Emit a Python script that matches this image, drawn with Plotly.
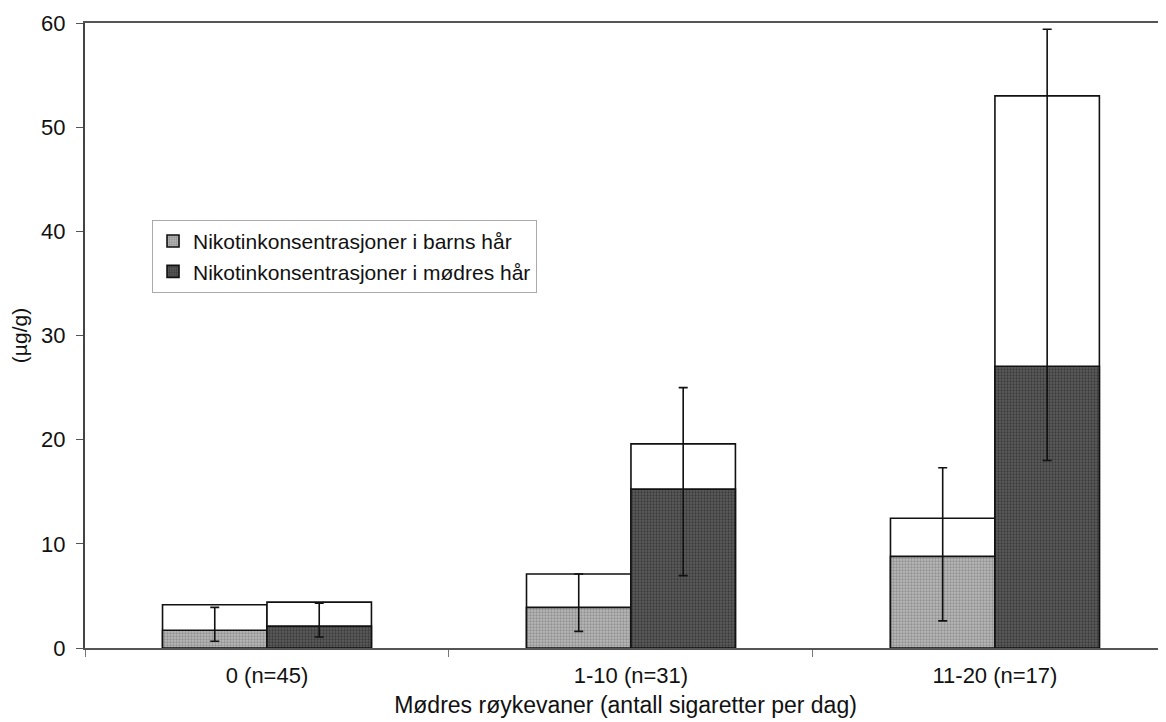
import plotly.graph_objects as go

categories = ["0 (n=45)", "1-10 (n=31)", "11-20 (n=17)"]
series_names = ["Nikotinkonsentrasjoner i barns hår", "Nikotinkonsentrasjoner i mødres hår"]

# filled part (lower) and total white-topped bar height
child_median = [1.7, 3.9, 8.8]
child_mean = [4.15, 7.1, 12.45]
child_low = [0.65, 1.6, 2.6]
child_high = [3.9, 7.1, 17.3]

mother_median = [2.1, 15.25, 27.05]
mother_mean = [4.4, 19.6, 53.0]
mother_low = [1.05, 6.95, 18.0]
mother_high = [4.3, 25.0, 59.4]

y_ticks = [0, 10, 20, 30, 40, 50, 60]

FONT = "Liberation Sans, Arial, sans-serif"
BW = 0.287

fig = go.Figure()

groups = [
    (series_names[0], child_median, child_mean, child_low, child_high, -BW, "#b8b8b8", "#6a6a6a"),
    (series_names[1], mother_median, mother_mean, mother_low, mother_high, 0.0, "#5c5c5c", "#1a1a1a"),
]

# white upper bars first
for name, med, mean, low, high, off, bg, fg in groups:
    fig.add_trace(go.Bar(
        x=categories, y=mean, width=BW, offset=off,
        marker=dict(color="white", line=dict(color="#111", width=1.6)),
        showlegend=False, hoverinfo="skip",
    ))

# filled lower bars with range error bars
for name, med, mean, low, high, off, bg, fg in groups:
    fig.add_trace(go.Bar(
        x=categories, y=med, width=BW, offset=off, name=name,
        marker=dict(color=bg, line=dict(color="#111", width=1.6),
                    pattern=dict(shape=".", bgcolor=bg, fgcolor=fg, size=3, solidity=0.45)),
        error_y=dict(type="data", symmetric=False,
                     array=[h - m for h, m in zip(high, med)],
                     arrayminus=[m - l for m, l in zip(med, low)],
                     color="#111", thickness=1.6, width=4.5),
    ))

fig.update_layout(
    width=1166, height=722,
    barmode="overlay",
    paper_bgcolor="white", plot_bgcolor="white",
    margin=dict(l=77, r=8, t=15, b=82),
    font=dict(family=FONT, size=21, color="#111"),
    showlegend=True,
    legend=dict(
        x=0.062, y=0.685, xanchor="left", yanchor="top",
        bgcolor="white", bordercolor="#aaa", borderwidth=1,
        font=dict(family=FONT, size=21, color="#111"),
        traceorder="normal", itemwidth=30, tracegroupgap=0,
    ),
    xaxis=dict(
        type="category", range=[-0.5, 2.47], automargin=False,
        showline=True, linecolor="#555", linewidth=2, mirror=True,
        ticks="outside", tickson="boundaries", ticklen=7, tickcolor="#777", tickwidth=1,
        showgrid=False, zeroline=False,
        tickfont=dict(family=FONT, size=22, color="#111"),
        ticklabelstandoff=7,
        title=dict(text="Mødres røykevaner (antall sigaretter per dag)",
                   font=dict(family=FONT, size=23, color="#111"), standoff=9),
    ),
    yaxis=dict(
        range=[0, 60], tickvals=y_ticks, automargin=False,
        showline=True, linecolor="#444", linewidth=2,
        ticks="outside", ticklen=7, tickcolor="#555", tickwidth=1,
        showgrid=False, zeroline=False,
        tickfont=dict(family=FONT, size=22, color="#111"),
        ticklabelstandoff=6,
        title=dict(text="(µg/g)", font=dict(family=FONT, size=21, color="#111"), standoff=14),
    ),
)

fig.write_html("out.html")
